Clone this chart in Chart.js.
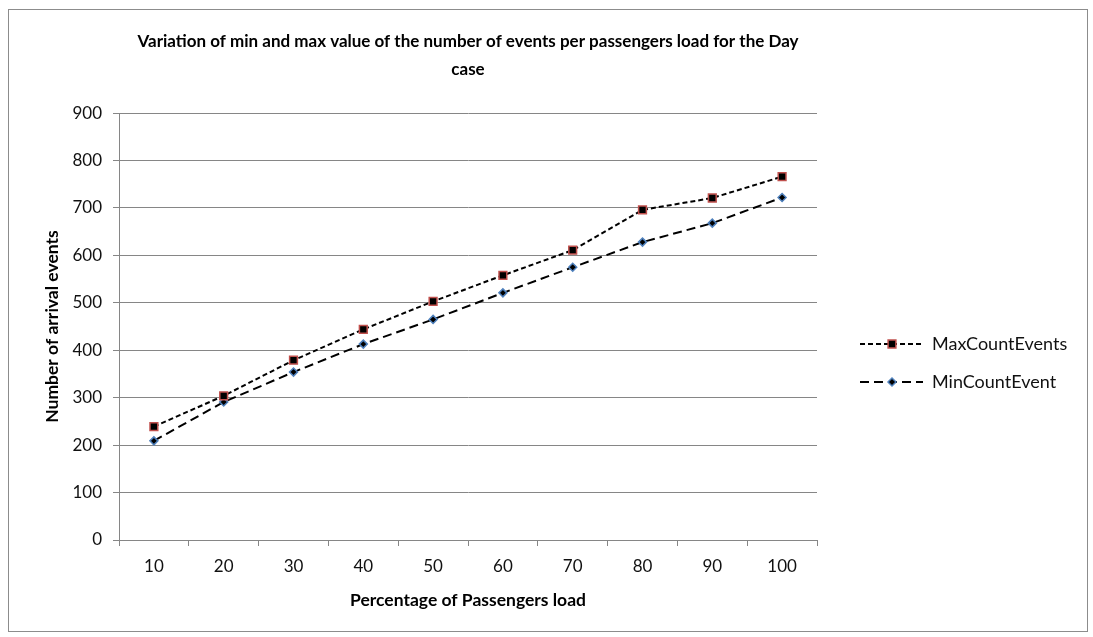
<!DOCTYPE html>
<html>
<head>
<meta charset="utf-8">
<script src="https://cdn.jsdelivr.net/npm/chart.js@4/dist/chart.umd.min.js"></script>
<style>
  html, body { margin: 0; padding: 0; background: #fff; }
  #wrap { width: 1093px; height: 637px; }
</style>
</head>
<body>
<div id="wrap"><canvas id="events-chart" width="1093" height="637"></canvas></div>
<script>
// values
var loads = ["10", "20", "30", "40", "50", "60", "70", "80", "90", "100"];
var maxCountEvents = [239, 304, 379, 444, 503, 558, 611, 696, 721, 766];
var minCountEvent = [209, 291, 354, 413, 465, 521, 575, 628, 668, 722];
var yTicks = [0, 100, 200, 300, 400, 500, 600, 700, 800, 900];

var FONT = "Lato, Carlito, 'Liberation Sans', sans-serif";
var GRID = "#868686";

// frame round the whole chart, and the legend with a line sample + marker
var framePlugin = {
    id: "frame",
    beforeDraw: function(chart) {
        var ctx = chart.ctx;
        ctx.save();
        ctx.strokeStyle = "#8c8c8c";
        ctx.lineWidth = 1;
        ctx.strokeRect(8.5, 9.5, 1079, 622);
        ctx.restore();
    },
    afterDraw: function(chart) {
        var ctx = chart.ctx;
        var rows = [344, 382];
        ctx.save();
        chart.data.datasets.forEach(function(ds, i) {
            var y = rows[i];
            ctx.strokeStyle = ds.borderColor;
            ctx.lineWidth = ds.borderWidth;
            ctx.setLineDash(ds.borderDash);
            ctx.beginPath();
            ctx.moveTo(860, y);
            ctx.lineTo(923, y);
            ctx.stroke();
            ctx.setLineDash([]);
            ctx.fillStyle = ds.pointBackgroundColor;
            ctx.strokeStyle = ds.pointBorderColor;
            ctx.lineWidth = ds.pointBorderWidth;
            Chart.helpers.drawPoint(ctx, {
                pointStyle: ds.pointStyle,
                radius: ds.pointRadius,
                borderWidth: ds.pointBorderWidth,
                rotation: 0
            }, 892, y);
            ctx.fillStyle = "#111";
            ctx.font = "18px " + FONT;
            ctx.textBaseline = "middle";
            ctx.textAlign = "left";
            ctx.fillText(ds.label, 932, y);
        });
        ctx.restore();
    }
};

var chart = new Chart(document.getElementById("events-chart").getContext("2d"), {
    type: "line",
    data: {
        labels: loads,
        datasets: [
            {
                label: "MaxCountEvents",
                data: maxCountEvents,
                borderColor: "#000",
                borderWidth: 2,
                borderDash: [5, 3],
                pointStyle: "rect",
                pointRadius: 5.5,
                pointBorderWidth: 1.5,
                pointBackgroundColor: "#000",
                pointBorderColor: "#c0504d",
                tension: 0
            },
            {
                label: "MinCountEvent",
                data: minCountEvent,
                borderColor: "#000",
                borderWidth: 2,
                borderDash: [9, 5],
                pointStyle: "rectRot",
                pointRadius: 4,
                pointBorderWidth: 1.5,
                pointBackgroundColor: "#000",
                pointBorderColor: "#4f81bd",
                tension: 0
            }
        ]
    },
    options: {
        responsive: false,
        animation: false,
        layout: { padding: { left: 0, right: 276, top: 0, bottom: 0 } },
        plugins: {
            legend: { display: false },
            tooltip: { enabled: false },
            title: {
                display: true,
                fullSize: false,
                text: ["Variation of min and max value of the number of events per passengers load for the Day", "case"],
                color: "#000",
                font: { family: FONT, size: 17, weight: "bold", lineHeight: 1.65 },
                padding: { top: 27, bottom: 30 }
            }
        },
        scales: {
            x: {
                offset: true,
                grid: { offset: true, drawOnChartArea: false, color: GRID, tickLength: 6, lineWidth: 1 },
                border: { color: GRID, width: 1 },
                ticks: { color: "#111", font: { family: FONT, size: 17 }, padding: 10, maxRotation: 0 },
                title: {
                    display: true,
                    text: "Percentage of Passengers load",
                    color: "#000",
                    font: { family: FONT, size: 17.5, weight: "bold" },
                    padding: { top: 0, bottom: 26 }
                },
                afterFit: function(scale) { scale.height = 97; }
            },
            y: {
                min: 0,
                max: 900,
                afterBuildTicks: function(scale) {
                    scale.ticks = yTicks.map(function(v) { return { value: v }; });
                },
                grid: { color: GRID, tickLength: 6, lineWidth: 1 },
                border: { color: GRID, width: 1 },
                ticks: { color: "#111", font: { family: FONT, size: 17 }, padding: 11 },
                title: {
                    display: true,
                    text: "Number of arrival events",
                    color: "#000",
                    font: { family: FONT, size: 17.5, weight: "bold" },
                    padding: { top: 42, bottom: 0 }
                },
                afterFit: function(scale) { scale.width = 119; }
            }
        }
    },
    plugins: [framePlugin]
});
</script>
</body>
</html>
